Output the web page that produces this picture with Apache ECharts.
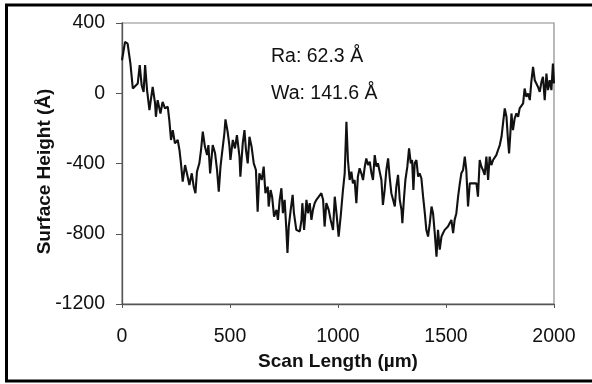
<!DOCTYPE html>
<html>
<head>
<meta charset="utf-8">
<script src="https://cdn.jsdelivr.net/npm/echarts@6/dist/echarts.min.js"></script>
<style>
  html, body { margin: 0; padding: 0; background: #fff; }
  #chart { width: 592px; height: 384px; }
</style>
</head>
<body>
<div id="chart"></div>
<script>
// Profilometer trace: scan position (µm) and surface height (Å)
const scanLength = [0,14,26,39,50,57,73,82,91,100,107,116,127,142,153,157,165,178,188,199,212,219,227,235,245,258,266,273,281,292,304,312,323,332,340,347,358,366,374,384,394,400,408,420,431,440,448,456,463,474,479,489,497,502,513,523,532,544,548,559,567,574,582,590,600,610,620,628,636,647,656,664,675,679,688,695,704,715,722,730,738,745,753,761,766,772,781,790,796,807,815,823,831,835,843,854,861,869,877,884,892,900,911,923,931,938,946,957,966,977,985,993,1003,1013,1023,1031,1039,1046,1054,1062,1069,1077,1085,1092,1100,1108,1116,1124,1131,1139,1147,1155,1162,1170,1178,1185,1193,1201,1208,1216,1224,1232,1239,1247,1255,1263,1270,1278,1286,1294,1298,1306,1312,1321,1329,1337,1343,1349,1355,1363,1371,1378,1386,1394,1402,1409,1417,1425,1433,1440,1448,1456,1463,1471,1479,1486,1494,1502,1509,1517,1525,1533,1540,1548,1556,1564,1571,1579,1587,1594,1602,1610,1618,1625,1633,1641,1648,1656,1664,1671,1679,1687,1695,1702,1710,1718,1726,1733,1741,1749,1757,1764,1772,1780,1787,1792,1798,1803,1810,1818,1826,1834,1841,1849,1857,1864,1872,1880,1888,1895,1903,1911,1919,1926,1934,1942,1949,1957,1965,1972,1980,1988,1995,2000];
const surfaceHeight = [188,292,283,169,27,36,56,160,46,8,160,18,-96,36,-58,-134,-39,-115,-49,-86,-77,-153,-266,-210,-285,-266,-323,-399,-503,-409,-475,-522,-456,-532,-569,-447,-399,-323,-219,-305,-352,-295,-456,-295,-342,-437,-560,-418,-342,-228,-149,-219,-295,-380,-266,-314,-238,-361,-475,-285,-210,-323,-399,-248,-305,-399,-437,-674,-456,-494,-418,-569,-532,-645,-551,-589,-702,-664,-721,-607,-541,-683,-607,-778,-910,-759,-664,-579,-683,-778,-787,-787,-721,-626,-778,-607,-683,-626,-721,-664,-626,-607,-589,-569,-607,-759,-626,-664,-721,-778,-589,-683,-816,-693,-551,-456,-162,-380,-494,-447,-513,-494,-626,-475,-427,-456,-494,-418,-371,-409,-390,-456,-494,-352,-418,-399,-447,-494,-636,-551,-437,-371,-475,-569,-607,-645,-532,-465,-607,-664,-740,-589,-494,-418,-314,-399,-380,-551,-399,-380,-475,-456,-484,-589,-683,-778,-816,-740,-645,-683,-797,-930,-778,-891,-816,-797,-778,-787,-759,-740,-721,-797,-721,-683,-589,-513,-456,-437,-361,-437,-645,-513,-503,-513,-503,-513,-589,-380,-418,-437,-465,-361,-494,-361,-409,-380,-371,-352,-323,-295,-248,-172,-86,-134,-266,-342,-228,-115,-210,-143,-115,-134,-86,-96,-58,27,-20,-1,-39,65,150,74,65,36,8,65,93,-39,112,18,74,18,169,56];

// Axis ranges and roughness annotations
const xTicks = { min: 0, max: 2000, interval: 500 };
const yTicks = { min: -1200, max: 400, interval: 400 };
const roughnessLabels = ['Ra: 62.3 Å', 'Wa: 141.6 Å'];

const profile = scanLength.map((x, i) => [x, surfaceHeight[i]]);
const font = '"Liberation Sans", Arial, sans-serif';
const plain = v => String(v);

const chart = echarts.init(document.getElementById('chart'), null, { renderer: 'canvas' });
chart.setOption({
  animation: false,
  backgroundColor: '#fff',
  grid: {
    left: 122, top: 23, right: 38, bottom: 80,
    show: true, borderColor: '#8a8a8a', borderWidth: 1.2
  },
  xAxis: {
    type: 'value',
    min: xTicks.min, max: xTicks.max, interval: xTicks.interval,
    name: 'Scan Length (µm)',
    nameLocation: 'middle',
    nameGap: 48,
    nameMoveOverlap: false,
    nameTextStyle: { fontFamily: font, fontSize: 19, fontWeight: 'bold', color: '#111' },
    axisLine: { show: true, onZero: false, lineStyle: { color: '#555', width: 1.3 } },
    axisTick: { show: true, inside: false, length: 4, lineStyle: { color: '#555' } },
    axisLabel: { margin: 23, fontFamily: font, fontSize: 19.5, color: '#111', formatter: plain },
    splitLine: { show: false }
  },
  yAxis: {
    type: 'value',
    min: yTicks.min, max: yTicks.max, interval: yTicks.interval,
    name: 'Surface Height (Å)',
    nameLocation: 'middle',
    nameGap: 68,
    nameMoveOverlap: false,
    nameRotate: 90,
    nameTextStyle: { fontFamily: font, fontSize: 19, fontWeight: 'bold', color: '#111', padding: [0, 16, 0, 0] },
    axisLine: { show: true, onZero: false, lineStyle: { color: '#555', width: 1.3 } },
    axisTick: { show: true, inside: false, length: 6, lineStyle: { color: '#555' } },
    axisLabel: { margin: 17, fontFamily: font, fontSize: 19.5, color: '#111', formatter: plain },
    splitLine: { show: false }
  },
  series: [{
    type: 'line',
    data: profile,
    showSymbol: false,
    symbol: 'none',
    lineStyle: { color: '#111', width: 2.1 },
    silent: true
  }],
  graphic: [
    {
      type: 'rect',
      shape: { x: 6.5, y: 5, width: 620, height: 376 },
      style: { fill: 'none', stroke: '#000', lineWidth: 3 },
      silent: true
    },
    {
      type: 'text', left: 271, top: 47,
      style: { text: roughnessLabels[0], font: '19.5px ' + font, fill: '#111' }
    },
    {
      type: 'text', left: 271, top: 84,
      style: { text: roughnessLabels[1], font: '19.5px ' + font, fill: '#111' }
    }
  ]
});
</script>
</body>
</html>
